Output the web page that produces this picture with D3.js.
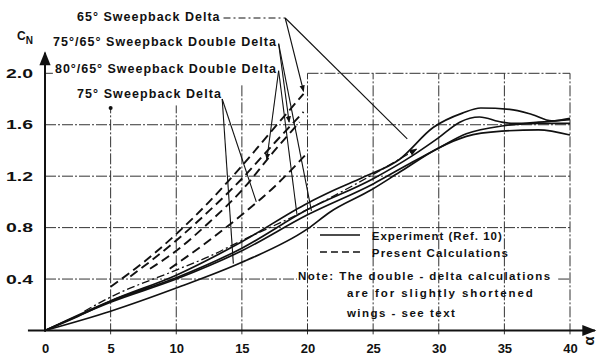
<!DOCTYPE html>
<html><head><meta charset="utf-8">
<script src="https://cdn.jsdelivr.net/npm/d3@7"></script>
<style>body{margin:0;background:#fff}svg{display:block}text{font-family:"Liberation Sans",Arial,sans-serif;fill:#111}</style>
</head><body><svg id="c" width="598" height="364"></svg>
<script>
// ---------- data ----------
const alphaTicks = [0,5,10,15,20,25,30,35,40];
const cnTicks = [0.4,0.8,1.2,1.6,2.0];
const cnTickLabels = ["0.4","0.8","1.2","1.6","2.0"];

// Experiment (Ref. 10) - solid
const exp1Alpha = [0,2.5,5,10,15,20,22,24.2,27,29.6,31.8,33.2,35.4,37.1,38.6,40];
const exp1CN    = [0,0.11,0.23,0.43,0.69,0.99,1.09,1.19,1.33,1.58,1.69,1.73,1.72,1.68,1.63,1.65];
const exp2Alpha = [0,5,10,15,20,25,28,30,31.6,33.1,34.8,35.7,37.6,40];
const exp2CN    = [0,0.23,0.41,0.64,0.94,1.18,1.36,1.50,1.62,1.66,1.62,1.61,1.62,1.64];
const exp3Alpha = [0,5,10,15,20,25,28,30,32.1,34.8,37.6,40];
const exp3CN    = [0,0.22,0.40,0.62,0.90,1.14,1.31,1.42,1.53,1.59,1.61,1.61];
const exp4Alpha = [0,5,10,15,20,21.7,24.8,27,30,32.1,34.8,37.6,40];
const exp4CN    = [0,0.15,0.33,0.53,0.79,0.92,1.09,1.23,1.42,1.51,1.55,1.56,1.52];

// Present calculations - dashed
const calc1Alpha = [5,7.5,10,12.5,15,17.5,19.7];
const calc1CN    = [0.34,0.53,0.75,1.00,1.28,1.58,1.84];
const calc2Alpha = [6.5,10,12.5,15,17.5,19.7];
const calc2CN    = [0.42,0.70,0.93,1.18,1.46,1.70];
const calc3Alpha = [8,10,12.5,15,17.5,19.4];
const calc3CN    = [0.48,0.62,0.84,1.09,1.40,1.62];
const calc4Alpha = [9.5,12.5,15,17.5,19.8];
const calc4CN    = [0.48,0.70,0.90,1.12,1.36];
const calc5Alpha = [3,5,10,12.6,15,19.2,23.7,28.3];
const calc5CN    = [0.15,0.26,0.47,0.58,0.70,0.90,1.14,1.41];

// configuration labels and their leader lines (data coordinates)
const labelTexts = ["65° Sweepback  Delta","75°/65° Sweepback  Double  Delta","80°/65° Sweepback  Double  Delta","75° Sweepback  Delta"];
const labelAlpha = [2.44,0.61,0.76,2.44];
const labelAlphaEnd = [13.3,17.6,17.6,13.4];
const labelCN = [2.405,2.215,2.005,1.81];
const leaderFrom = [[18.3,2.43],[18.3,2.43],[17.8,2.23],[17.8,2.23],[17.8,2.02],[17.8,2.02],[13.5,1.80],[13.5,1.80]];
const leaderTo   = [[19.7,1.86],[27.6,1.49],[18.6,1.62],[20.3,0.93],[16.9,1.33],[19.2,0.90],[14.35,0.52],[16.1,1.00]];
const leaderArrow = [true,false,true,false,true,false,false,false];

const legendTexts = ["Experiment (Ref. 10)","Present Calculations"];
const noteTexts = ["Note:  The  double - delta  calculations","are  for  slightly  shortened","wings - see  text"];

// ---------- drawing ----------
const svg = d3.select("#c");
const x = d3.scaleLinear().domain([0,40]).range([45,570]);
const y = d3.scaleLinear().domain([0,2]).range([330.5,73.3]);

const defs = svg.append("defs");
defs.append("marker").attr("id","arr").attr("viewBox","0 0 10 10").attr("refX",9).attr("refY",5)
  .attr("markerWidth",6).attr("markerHeight",6).attr("orient","auto")
  .append("path").attr("d","M0,1L10,5L0,9z").attr("fill","#111");
defs.append("marker").attr("id","big").attr("viewBox","0 0 10 10").attr("refX",9).attr("refY",5)
  .attr("markerWidth",9).attr("markerHeight",7).attr("orient","auto")
  .append("path").attr("d","M0,1L10,5L0,9z").attr("fill","#111");

const grid = svg.append("g").attr("stroke","#333").attr("stroke-width",1).attr("stroke-dasharray","11,2,2,2").attr("fill","none");
// horizontal grid
const hSegs = [[0.4,0,19.2],[0.4,39.1,40],[0.8,0,40],[1.2,0,40],[1.6,0,40],[2.0,20,40],[2.0,0,0.6]];
hSegs.forEach(s=>grid.append("line").attr("x1",x(s[1])).attr("x2",x(s[2])).attr("y1",y(s[0])).attr("y2",y(s[0])));
// vertical grid
const vTop = [0,1.73,1.75,1.92,2,2,2,2,2];
alphaTicks.forEach((a,i)=>{ if(a===0) return;
  grid.append("line").attr("x1",x(a)).attr("x2",x(a)).attr("y1",y(-0.03)).attr("y2",y(vTop[i]));
});
svg.append("circle").attr("cx",x(5)).attr("cy",y(1.73)).attr("r",2).attr("fill","#111");

// axes
const ax = svg.append("g").attr("stroke","#111").attr("stroke-width",2);
ax.append("line").attr("x1",x(0)).attr("x2",x(0)).attr("y1",y(-0.01)).attr("y2",y(2.16)).attr("marker-end","url(#big)");
ax.append("line").attr("x1",x(-1.3)).attr("x2",x(41.9)).attr("y1",y(0)).attr("y2",y(0)).attr("marker-end","url(#big)");

const yAxis = d3.axisLeft(y).tickValues(cnTicks).tickFormat((d,i)=>cnTickLabels[i]).tickSize(0).tickPadding(12);
const gy = svg.append("g").attr("transform",`translate(${x(0)},0)`).call(yAxis);
gy.select(".domain").remove();
gy.selectAll("text").attr("font-size",13).attr("font-weight","bold").attr("textLength",27).attr("lengthAdjust","spacingAndGlyphs").style("font-family","Liberation Sans, Arial");
const xAxis = d3.axisBottom(x).tickValues(alphaTicks).tickSize(0).tickPadding(13);
const gx = svg.append("g").attr("transform",`translate(0,${y(0)})`).call(xAxis);
gx.select(".domain").remove();
gx.selectAll("text").attr("font-size",13).attr("font-weight","bold").style("font-family","Liberation Sans, Arial");

svg.append("text").attr("x",17).attr("y",40).attr("font-size",12).attr("font-weight","bold").text("C")
  .append("tspan").attr("font-size",10).attr("dy",4).text("N");
svg.append("text").attr("transform",`translate(${x(41.8)},${y(-0.08)}) rotate(-90)`).attr("font-size",15).attr("font-weight","bold").attr("text-anchor","middle").text("α");

// curves
const line = d3.line().x(d=>x(d[0])).y(d=>y(d[1])).curve(d3.curveMonotoneX);
const zip = (a,c)=>a.map((v,i)=>[v,c[i]]);
const exps = [[exp1Alpha,exp1CN],[exp2Alpha,exp2CN],[exp3Alpha,exp3CN],[exp4Alpha,exp4CN]];
exps.forEach(e=>svg.append("path").attr("d",line(zip(e[0],e[1]))).attr("fill","none").attr("stroke","#111").attr("stroke-width",1.7));
const calcs = [[calc1Alpha,calc1CN],[calc2Alpha,calc2CN],[calc3Alpha,calc3CN],[calc4Alpha,calc4CN]];
calcs.forEach(c=>svg.append("path").attr("d",line(zip(c[0],c[1]))).attr("fill","none").attr("stroke","#111").attr("stroke-width",1.9).attr("stroke-dasharray","9,5"));
svg.append("path").attr("d",line(zip(calc5Alpha,calc5CN))).attr("fill","none").attr("stroke","#111").attr("stroke-width",1.3).attr("stroke-dasharray","8,3,2,3").attr("marker-end","url(#arr)");

// labels
labelTexts.forEach((t,i)=>{
  svg.append("text").attr("x",x(labelAlpha[i])).attr("y",y(labelCN[i])).attr("font-size",12.5).attr("font-weight","bold")
    .attr("textLength",x(labelAlphaEnd[i])-x(labelAlpha[i])).attr("lengthAdjust","spacing").text(t);
});
svg.append("line").attr("x1",x(13.6)).attr("x2",x(18.3)).attr("y1",y(2.43)).attr("y2",y(2.43))
  .attr("stroke","#111").attr("stroke-width",1).attr("stroke-dasharray","7,3,2,3");
leaderFrom.forEach((f,i)=>{
  const l = svg.append("line").attr("x1",x(f[0])).attr("y1",y(f[1])).attr("x2",x(leaderTo[i][0])).attr("y2",y(leaderTo[i][1]))
    .attr("stroke","#111").attr("stroke-width",1.1);
  if(leaderArrow[i]) l.attr("marker-end","url(#arr)");
});

// legend
svg.append("line").attr("x1",x(20.95)).attr("x2",x(24)).attr("y1",y(0.743)).attr("y2",y(0.743)).attr("stroke","#111").attr("stroke-width",1.5);
svg.append("line").attr("x1",x(20.95)).attr("x2",x(24)).attr("y1",y(0.61)).attr("y2",y(0.61)).attr("stroke","#111").attr("stroke-width",1.5).attr("stroke-dasharray","7,4");
const legCN = [0.705,0.572];
const legW = [130,136];
legendTexts.forEach((t,i)=>svg.append("text").attr("x",x(24.9)).attr("y",y(legCN[i])).attr("font-size",11.5).attr("font-weight","bold")
  .attr("textLength",legW[i]).attr("lengthAdjust","spacing").text(t));
const noteAlpha = [19.28,23.0,23.0];
const noteCN = [0.393,0.258,0.107];
const noteW = [252,186,108];
noteTexts.forEach((t,i)=>svg.append("text").attr("x",x(noteAlpha[i])).attr("y",y(noteCN[i])).attr("font-size",11.5).attr("font-weight","bold")
  .attr("textLength",noteW[i]).attr("lengthAdjust","spacing").text(t));
</script></body></html>
